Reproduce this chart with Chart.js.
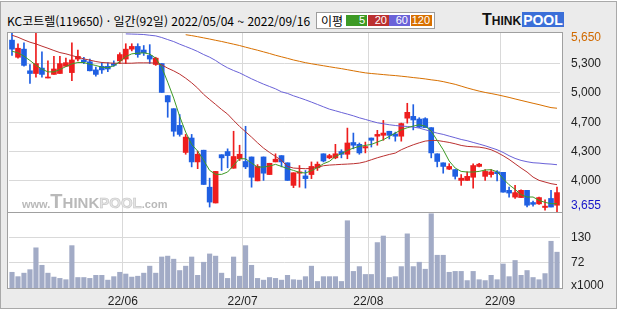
<!DOCTYPE html>
<html lang="ko">
<head>
<meta charset="utf-8">
<title>KC코트렐 일간</title>
<script src="https://cdn.jsdelivr.net/npm/chart.js@4.4.1/dist/chart.umd.min.js"></script>
<style>
  html, body { margin: 0; padding: 0; }
  body { width: 620px; height: 310px; position: relative; overflow: hidden; background: #fff; }
  #frame { position: absolute; left: 0; top: 1px; width: 615px; height: 306px; border: 1px solid #a9a9a9; background: #ebebeb; }
  canvas { position: absolute; left: 0; }
  #priceChart { top: 0; }
  #volumeChart { top: 212px; }
  #title { position: absolute; left: 7px; top: 14px; font: 12px/14px "Noto Sans CJK KR", sans-serif; color: #000; white-space: nowrap; }
  #legend { position: absolute; left: 316px; top: 12px; width: 117px; height: 15px; border: 1px solid #9d9d9d; background: #fff; }
  #legend .lbl { position: absolute; left: 4px; top: 0; font: 12px/15px "Noto Sans CJK KR", sans-serif; color: #000; }
  #legend .ma { position: absolute; top: 2px; width: 21px; height: 11px; box-sizing: border-box; padding-right: 2px; text-align: right; color: #fff; font: 11px/11px "Liberation Sans", Arial, sans-serif; }
  #logo { position: absolute; left: 482px; top: 12px; display: flex; align-items: baseline; font-family: "Liberation Sans", Arial, sans-serif; font-weight: bold; color: #111; line-height: 1; }
  #logo .t { font-size: 16px; }
  #logo .hink { font-size: 12px; }
  #logo .pool { font-size: 14px; background: #3b6fd8; color: #fff; padding: 1px 1px 0; margin-left: 1px; }
  #watermark { position: absolute; left: 22px; top: 191px; display: flex; align-items: baseline; font-family: "Liberation Sans", Arial, sans-serif; font-weight: bold; color: #b9b9b9; line-height: 1; pointer-events: none; }
  #watermark .w { font-size: 11px; }
  #watermark .t { font-size: 20px; }
  #watermark .hink { font-size: 15px; }
  #watermark .pool { font-size: 15px; color: #e4e4e4; -webkit-text-stroke: 0.6px #c6c6c6; }
</style>
</head>
<body>
<div id="frame"></div>
<div id="title">KC코트렐(119650) · 일간(92일) 2022/05/04 ~ 2022/09/16</div>
<div id="legend"><span class="lbl">이평</span></div>
<div id="logo"><span class="t">T</span><span class="hink">HINK</span><span class="pool">POOL</span></div>
<canvas id="priceChart" width="620" height="213"></canvas>
<canvas id="volumeChart" width="620" height="98"></canvas>
<div id="watermark"><span class="w">www.</span><span class="t">T</span><span class="hink">HINK</span><span class="pool">POOL</span><span class="w">.com</span></div>

<script>
// trading days 2022/05/04 ~ 2022/09/16 (MM/DD)
const days = [
  "05/04","05/06","05/09","05/10","05/11","05/12","05/13","05/16","05/17","05/18","05/19","05/20","05/23","05/24","05/25","05/26","05/27","05/30","05/31",
  "06/02","06/03","06/07","06/08","06/09","06/10","06/13","06/14","06/15","06/16","06/17","06/20","06/21","06/22","06/23","06/24","06/27","06/28","06/29","06/30",
  "07/01","07/04","07/05","07/06","07/07","07/08","07/11","07/12","07/13","07/14","07/15","07/18","07/19","07/20","07/21","07/22","07/25","07/26","07/27","07/28","07/29",
  "08/01","08/02","08/03","08/04","08/05","08/08","08/09","08/10","08/11","08/12","08/16","08/17","08/18","08/19","08/22","08/23","08/24","08/25","08/26","08/29","08/30","08/31",
  "09/01","09/02","09/05","09/06","09/07","09/08","09/13","09/14","09/15","09/16"
];

const open = [
  5560,5370,5460,5220,5190,5250,5140,5180,5190,5270,
  5200,5350,5340,5320,5230,5270,5270,5300,5330,5350,
  5460,5490,5450,5390,5290,5300,4945,4800,4615,4315,
  4475,4210,4340,3930,3755,4290,4325,4140,4245,4215,
  4265,4000,4265,4070,4210,4280,4200,3950,4085,4055,
  4070,4145,4300,4255,4255,4325,4295,4425,4405,4365,
  4475,4495,4505,4550,4520,4495,4695,4715,4685,4690,
  4590,4300,4200,4130,4125,4005,4005,4040,4160,4050,
  4070,4100,4095,3895,3820,3815,3895,3760,3745,3705,
  3805,3730
];
const high = [
  5640,5520,5530,5290,5650,5430,5330,5380,5380,5360,
  5530,5450,5370,5350,5260,5310,5310,5330,5420,5520,
  5520,5520,5500,5510,5370,5300,4945,4800,4735,4515,
  4515,4330,4340,4030,4105,4290,4355,4550,4395,4605,
  4265,4180,4265,4195,4300,4280,4200,4090,4170,4115,
  4210,4210,4300,4295,4405,4345,4585,4530,4420,4430,
  4475,4560,4670,4550,4540,4640,4860,4845,4700,4700,
  4590,4300,4200,4190,4125,4070,4100,4190,4195,4125,
  4125,4115,4095,3930,3950,3900,3895,3775,3820,3790,
  3895,3930
];
const low = [
  5390,5360,5270,5080,5150,5150,5140,5180,5190,5270,
  5110,5330,5300,5220,5160,5190,5210,5270,5300,5300,
  5440,5370,5390,5300,5280,4980,4705,4495,4495,4295,
  4155,4135,3960,3710,3755,4115,4145,4140,4225,4135,
  3930,4000,4005,4070,4210,4155,4005,3925,3930,3920,
  4025,4115,4210,4245,4245,4255,4245,4355,4295,4310,
  4375,4395,4450,4465,4440,4440,4640,4565,4590,4590,
  4255,4155,4085,4125,4020,3950,4005,3920,4155,4005,
  4040,4000,3875,3820,3805,3815,3710,3720,3740,3675,
  3710,3655
];
const close = [
  5460,5470,5280,5190,5300,5180,5150,5240,5300,5310,
  5340,5380,5320,5220,5180,5230,5240,5280,5400,5460,
  5490,5400,5420,5350,5360,4980,4875,4550,4515,4485,
  4210,4295,3960,3765,4105,4255,4280,4270,4295,4155,
  4040,4160,4085,4195,4240,4210,4005,4090,4100,4025,
  4160,4185,4220,4280,4300,4295,4420,4395,4310,4380,
  4450,4515,4530,4505,4495,4635,4760,4675,4595,4590,
  4310,4215,4160,4160,4050,4030,4050,4170,4185,4105,
  4100,4080,3875,3865,3870,3895,3730,3740,3815,3720,
  3710,3870
];

// volume, x1000 shares
const volume = [
  50,40,48,56,106,66,48,39,36,33,
  111,38,38,36,43,43,32,40,50,46,
  39,41,48,64,48,85,87,80,54,64,
  85,43,73,92,87,48,36,85,41,111,
  66,36,32,38,36,32,43,33,32,40,
  64,29,40,40,40,29,168,52,63,45,
  45,118,133,38,40,63,138,63,73,57,
  184,89,89,50,52,52,31,52,33,31,
  43,33,69,40,77,43,54,38,33,47,
  121,96
];

// moving averages as drawn (null = above the visible range)
const ma5 = [
  5437,5419,5382,5334,5282,5238,5208,5208,5234,5267,
  5297,5312,5312,5293,5279,5260,5253,5275,5323,5378,
  5408,5415,5419,5405,5360,5260,5094,4917,4714,4540,
  4404,4330,4227,4116,4072,4072,4098,4172,4245,4245,
  4197,4153,4153,4164,4183,4160,4135,4116,4094,4087,
  4113,4146,4190,4216,4271,4301,4338,4363,4382,4393,
  4404,4430,4456,4493,4530,4566,4589,4607,4622,4607,
  4552,4448,4345,4220,4142,4105,4098,4098,4105,4120,
  4124,4101,4024,3957,3906,3847,3821,3821,3784,3762,
  3747,3747
];
const ma20 = [
  5614,5592,5563,5537,5518,5493,5470,5445,5422,5408,
  5389,5371,5352,5338,5323,5312,5308,5304,5304,5304,
  5304,5308,5308,5308,5305,5286,5249,5219,5183,5138,
  5087,5028,4958,4902,4847,4791,4740,4670,4603,4544,
  4485,4422,4363,4315,4271,4227,4160,4142,4138,4135,
  4138,4149,4168,4175,4179,4183,4186,4190,4197,4212,
  4234,4256,4275,4293,4308,4345,4374,4400,4422,4441,
  4448,4448,4437,4426,4411,4393,4382,4378,4374,4363,
  4345,4315,4279,4238,4190,4142,4098,4042,4006,3987,
  3969,3958
];
const ma60 = [
  null,null,null,null,null,null,null,null,null,null,
  null,null,null,null,null,null,null,null,null,5629,
  5627,5625,5622,5614,5607,5589,5566,5544,5515,5489,
  5463,5434,5400,5371,5334,5290,5253,5223,5197,5164,
  5131,5101,5072,5046,5020,4987,4969,4943,4921,4898,
  4873,4847,4821,4795,4777,4758,4740,4721,4699,4681,
  4662,4644,4633,4622,4614,4607,4603,4596,4585,4566,
  4548,4529,4515,4496,4478,4459,4445,4426,4408,4389,
  4367,4345,4315,4279,4249,4227,4212,4201,4197,4190,
  4186,4179
];
const ma120 = [
  null,null,null,null,null,null,null,null,null,null,
  null,null,null,null,null,null,null,null,null,null,
  null,null,null,null,null,null,null,null,null,5620,
  5610,5598,5585,5572,5558,5545,5530,5515,5500,5482,
  5465,5448,5430,5412,5392,5375,5358,5340,5325,5310,
  5298,5287,5276,5265,5254,5244,5232,5220,5208,5197,
  5190,5184,5178,5172,5167,5160,5153,5145,5138,5130,
  5120,5112,5100,5085,5070,5050,5030,5012,4995,4980,
  4968,4955,4940,4925,4908,4892,4876,4860,4845,4828,
  4812,4805
];

const maPeriods = [5, 20, 60, 120];

// price axis: evenly spaced grid, labels rounded to 100
const priceTicks = [4000, 4325, 4650, 4975, 5300];
const priceTickLabels = ["4,000", "4,300", "4,700", "5,000", "5,300"];

// volume axis
const volMin = 14;
const volMax = 188;
const volTicks = [72, 130];
const volTickLabels = ["72", "130"];

const monthStartDays = ["06/02", "07/01", "08/01", "09/01"];
const monthLabels = ["22/06", "22/07", "22/08", "22/09"];

// --- styles ---
const UP = "#ee1d1d";
const DOWN = "#1f5fe2";
const GRID = "#d9d9d9";
const FRAME = "#a0a0a0";
const TEXT = "#222";
const VOL = "#a2abc6";
const MA_COLORS = ["#3d9a25", "#bb3030", "#6a62d8", "#d87000"];
const AXIS_W = 60;

Chart.defaults.font.family = '"Liberation Sans", Arial, sans-serif';
Chart.defaults.font.size = 12;
Chart.defaults.color = TEXT;

const priceMin = Math.min(...low);
const priceMax = Math.max(...high);
const monthIdx = monthStartDays.map((d) => days.indexOf(d));

/**
 * White plot area with a grey frame, drawn 2px outside the category range.
 */
const paneFrame = {
  id: "paneFrame",
  beforeDraw(chart) {
    const { ctx, chartArea: a } = chart;
    ctx.save();
    ctx.fillStyle = "#fff";
    ctx.fillRect(a.left - 2, a.top, a.right - a.left + 4, a.bottom - a.top);
    ctx.restore();
  },
  afterDraw(chart) {
    const { ctx, chartArea: a } = chart;
    ctx.save();
    ctx.strokeStyle = FRAME;
    ctx.lineWidth = 1;
    ctx.strokeRect(a.left - 1.5, a.top + 0.5, a.right - a.left + 4, a.bottom - a.top);
    ctx.restore();
  },
};

/**
 * Extra labels on the right axis (max / min price, volume unit).
 */
const edgeLabels = {
  id: "edgeLabels",
  afterDraw(chart, args, opts) {
    const { ctx, chartArea: a } = chart;
    ctx.save();
    ctx.font = '12px "Liberation Sans", Arial, sans-serif';
    ctx.textAlign = "left";
    ctx.textBaseline = "middle";
    (opts.items || []).forEach((it) => {
      ctx.fillStyle = it.color;
      const y = (it.at === "top" ? a.top : a.bottom) + it.dy;
      ctx.fillText(it.text, a.right + 11, y);
    });
    ctx.restore();
  },
};

const fmt = (v) => v.toLocaleString("en-US");
const candleColor = (c) => (close[c.dataIndex] >= open[c.dataIndex] ? UP : DOWN);
const monthGrid = (c) => (monthIdx.includes(c.index) ? GRID : "rgba(0,0,0,0)");

function maDataset(period, data, color) {
  return {
    type: "line",
    label: "MA" + period,
    data,
    borderColor: color,
    borderWidth: 1,
    pointRadius: 0,
    tension: 0,
    order: 0,
    clip: 0,
  };
}

function renderLegend() {
  const box = document.querySelector("#legend");
  const lefts = [29, 51, 72, 94];
  maPeriods.forEach((p, i) => {
    const s = document.createElement("span");
    s.className = "ma";
    s.textContent = p;
    s.style.left = lefts[i] + "px";
    s.style.background = MA_COLORS[i];
    box.appendChild(s);
  });
}

function renderPrice(canvas) {
  const mas = [ma5, ma20, ma60, ma120];
  return new Chart(canvas, {
    type: "bar",
    data: {
      labels: days,
      datasets: [
        ...mas.map((d, i) => maDataset(maPeriods[i], d, MA_COLORS[i])),
        {
          label: "body",
          data: days.map((_, i) => [open[i], close[i]]),
          backgroundColor: candleColor,
          barThickness: 5,
          minBarLength: 1,
          grouped: false,
          order: 1,
        },
        {
          label: "wick",
          data: days.map((_, i) => [low[i], high[i]]),
          backgroundColor: candleColor,
          barThickness: 1,
          grouped: false,
          order: 2,
        },
      ],
    },
    options: {
      responsive: false,
      animation: false,
      devicePixelRatio: 1,
      layout: { padding: { left: 9, top: 32, right: 0, bottom: 1 } },
      plugins: {
        legend: { display: false },
        tooltip: { enabled: false },
        edgeLabels: {
          items: [
            { text: fmt(priceMax), at: "top", dy: 6, color: "#d06a00" },
            { text: fmt(priceMin), at: "bottom", dy: -6, color: "#1515c8" },
          ],
        },
      },
      scales: {
        x: {
          offset: true,
          grid: { offset: true, drawTicks: false, color: monthGrid },
          border: { display: false },
          ticks: { display: false },
        },
        y: {
          position: "right",
          min: priceMin,
          max: priceMax,
          afterBuildTicks: (s) => { s.ticks = priceTicks.map((value) => ({ value })); },
          afterFit: (s) => { s.width = AXIS_W; s.paddingTop = 0; s.paddingBottom = 0; },
          grid: { color: GRID, drawTicks: false },
          border: { display: false },
          ticks: { padding: 11, color: TEXT, callback: (v, i) => priceTickLabels[i] },
        },
      },
    },
    plugins: [paneFrame, edgeLabels],
  });
}

function renderVolume(canvas) {
  return new Chart(canvas, {
    type: "bar",
    data: {
      labels: days,
      datasets: [{ label: "volume", data: volume, backgroundColor: VOL, barThickness: 4.5, clip: 0 }],
    },
    options: {
      responsive: false,
      animation: false,
      devicePixelRatio: 1,
      layout: { padding: { left: 9, top: 0, right: 0, bottom: 0 } },
      plugins: {
        legend: { display: false },
        tooltip: { enabled: false },
        edgeLabels: { items: [{ text: "x1000", at: "bottom", dy: -2, color: TEXT }] },
      },
      scales: {
        x: {
          offset: true,
          grid: { offset: true, drawTicks: false, color: monthGrid },
          border: { display: false },
          afterFit: (s) => { s.height = 22; s.paddingLeft = 0; s.paddingRight = 0; },
          ticks: {
            autoSkip: false,
            maxRotation: 0,
            padding: 6,
            labelOffset: -3,
            color: TEXT,
            callback: (v, i) => {
              const k = monthIdx.indexOf(i);
              return k >= 0 ? monthLabels[k] : "";
            },
          },
        },
        y: {
          position: "right",
          min: volMin,
          max: volMax,
          afterBuildTicks: (s) => { s.ticks = volTicks.map((value) => ({ value })); },
          afterFit: (s) => { s.width = AXIS_W; s.paddingTop = 0; s.paddingBottom = 0; },
          grid: { color: GRID, drawTicks: false },
          border: { display: false },
          ticks: { padding: 11, color: TEXT, callback: (v, i) => volTickLabels[i] },
        },
      },
    },
    plugins: [paneFrame, edgeLabels],
  });
}

renderLegend();
renderPrice(document.querySelector("#priceChart"));
renderVolume(document.querySelector("#volumeChart"));
</script>
</body>
</html>
